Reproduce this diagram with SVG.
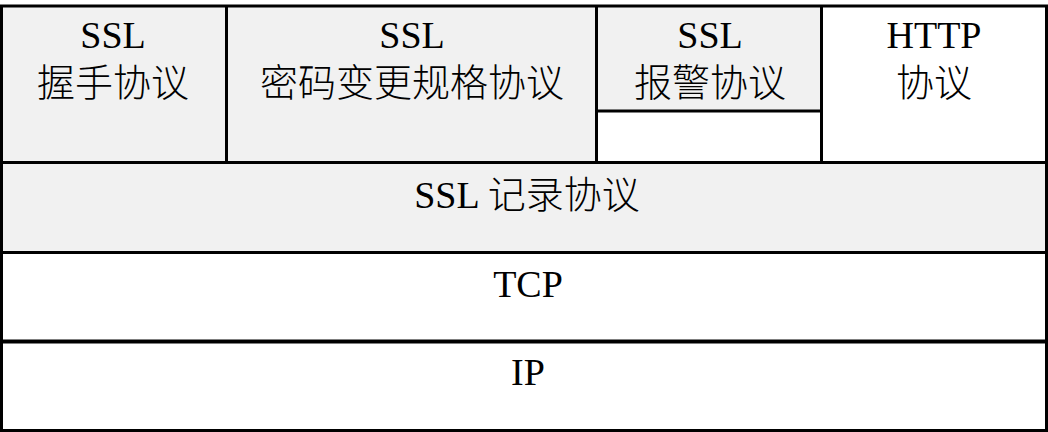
<svg xmlns="http://www.w3.org/2000/svg" width="1048" height="432" viewBox="0 0 1048 432">
<style>
.g{fill:#f1f1f1;stroke:none}
.w{fill:#ffffff;stroke:none}
.ln{stroke:#000;stroke-width:3;fill:none}
.t{font-family:"Liberation Serif","Noto Sans CJK SC",serif;font-size:38px;font-weight:300;fill:#000;text-anchor:middle}
</style>
<rect x="0" y="0" width="1048" height="432" fill="#ffffff"/>
<g id="handshake">
<rect class="g" x="1" y="6" width="226" height="157"/>
<text class="t" x="113" y="48">SSL</text>
<text class="t" x="113" y="96">握手协议</text>
</g>
<g id="cipher">
<rect class="g" x="227" y="6" width="370" height="157"/>
<text class="t" x="412" y="48">SSL</text>
<text class="t" x="412" y="96">密码变更规格协议</text>
</g>
<g id="alert">
<rect class="g" x="597" y="6" width="225" height="105"/>
<rect class="w" x="597" y="111" width="225" height="52"/>
<text class="t" x="710" y="48">SSL</text>
<text class="t" x="710" y="96">报警协议</text>
</g>
<g id="http">
<rect class="w" x="822" y="6" width="225" height="157"/>
<text class="t" x="934" y="48">HTTP</text>
<text class="t" x="934" y="96">协议</text>
</g>
<g id="record">
<rect class="g" x="1" y="163" width="1046" height="89"/>
<text class="t" x="527" y="208">SSL 记录协议</text>
</g>
<g id="tcp">
<rect class="w" x="1" y="252" width="1046" height="89"/>
<text class="t" x="528" y="297">TCP</text>
</g>
<g id="ip">
<rect class="w" x="1" y="341" width="1046" height="90"/>
<text class="t" x="528" y="385">IP</text>
</g>
<g id="lines">
<rect class="ln" x="1.5" y="6" width="1045" height="424.5"/>
<line class="ln" x1="226.5" y1="6" x2="226.5" y2="163"/>
<line class="ln" x1="596.5" y1="6" x2="596.5" y2="163"/>
<line class="ln" x1="821.5" y1="6" x2="821.5" y2="163"/>
<line class="ln" x1="597" y1="111" x2="822" y2="111"/>
<line class="ln" x1="0" y1="162.5" x2="1048" y2="162.5"/>
<line class="ln" x1="0" y1="252.5" x2="1048" y2="252.5"/>
<line x1="0" y1="341.5" x2="1048" y2="341.5" stroke="#000" stroke-width="4"/>
</g>
</svg>
